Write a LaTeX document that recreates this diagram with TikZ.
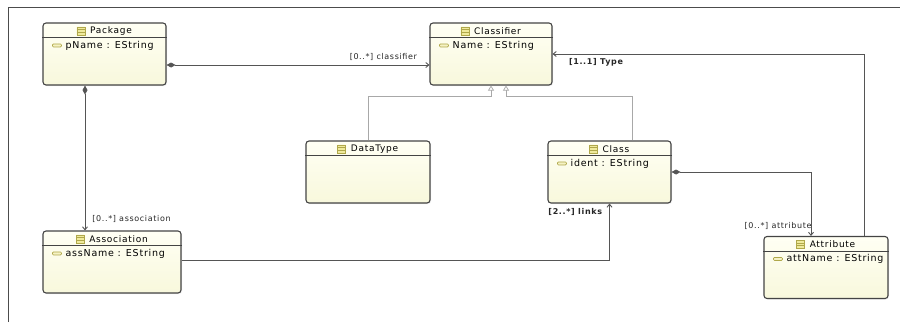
\documentclass[tikz,border=0pt]{standalone}
\usepackage{fontspec}
\setmainfont{DejaVu Sans}[LetterSpace=8]
\usetikzlibrary{positioning, arrows.meta, shadows}

\definecolor{boxline}{HTML}{444444}
\definecolor{boxtop}{HTML}{FFFFF4}
\definecolor{boxbot}{HTML}{F8F8DC}
\definecolor{iconline}{HTML}{B0A84A}
\definecolor{iconfill}{HTML}{EFEA9C}
\definecolor{edgeline}{HTML}{555555}
\definecolor{genline}{HTML}{A8A8A8}

\tikzset{
  clsbox/.style={draw=boxline, line width=1.1pt, rounded corners=3pt,
    top color=boxtop, bottom color=boxbot,
    drop shadow={opacity=0.15, shadow xshift=1pt, shadow yshift=-1pt}},
  sepline/.style={draw=boxline, line width=0.7pt},
  boxtitle/.style={inner sep=0pt, font=\fontsize{9}{10}\selectfont},
  attrtext/.style={inner sep=0pt, font=\fontsize{9.5}{11}\selectfont},
  iconcls/.style={draw=iconline, fill=iconfill, line width=0.6pt},
  iconattr/.style={draw=iconline, fill=iconfill!60, line width=0.6pt},
  assoc/.style={draw=edgeline, line width=0.9pt},
  comp/.style={assoc, {Diamond[length=9pt, width=5pt]}-{Straight Barb[length=3pt, width=5pt]}},
  ref/.style={assoc, -{Straight Barb[length=3pt, width=5pt]}},
  gen/.style={draw=genline, line width=0.7pt, -{Triangle[open, length=5pt, width=6pt, fill=white]}},
  lbl/.style={inner sep=0pt, text=black!85, font=\fontsize{8}{9}\selectfont},
  lblb/.style={lbl, font=\fontsize{8}{9}\selectfont\bfseries},
  frameline/.style={draw=black!70, line width=1pt}
}

% box with header line and title icon
\newcommand{\umlclass}[4]{%
  \node[clsbox, minimum width=#3pt, minimum height=62pt] (#1) at (#2) {};
  \draw[sepline] ([yshift=-15pt]#1.north west) -- ([yshift=-15pt]#1.north east);
  \node[boxtitle] (#1-t) at ([yshift=-8.5pt]#1.north) {\hspace*{13pt}#4};
  \draw[iconcls] ([yshift=-4pt]#1-t.west) rectangle ++(8pt,8pt)
    ([yshift=1.3pt]#1-t.west) -- ++(8pt,0pt)
    ([yshift=-1.3pt]#1-t.west) -- ++(8pt,0pt);
}
% one attribute row
\newcommand{\umlattr}[2]{%
  \node[attrtext, anchor=west] (#1-a) at ([xshift=23pt, yshift=-23pt]#1.north west) {#2};
  \draw[iconattr, rounded corners=1pt] ([xshift=-13pt, yshift=-1.5pt]#1-a.west) rectangle ++(9pt,3pt);
}

\begin{document}
\begin{tikzpicture}[x=1pt, y=-1pt]
  \useasboundingbox (0,0) rectangle (900,322);
  \draw[frameline] (8,322) -- (8,7) -- (900,7);

  % classes
  \umlclass{pkg}{104.5,54}{123}{Package}
  \umlattr{pkg}{pName : EString}
  \umlclass{cls}{491,54}{122}{Classifier}
  \umlattr{cls}{Name : EString}
  \umlclass{dt}{368,172}{124}{DataType}
  \umlclass{cla}{609.5,172}{123}{Class}
  \umlattr{cla}{ident : EString}
  \umlclass{asc}{112,262}{138}{Association}
  \umlattr{asc}{assName : EString}
  \umlclass{att}{826,267.5}{124}{Attribute}
  \umlattr{att}{attName : EString}

  % inheritance
  \draw[gen] (dt.north) -- ++(0,-44) -| (cls.south);
  \draw[gen] ([xshift=22.5pt]cla.north) -- ++(0,-44) -| ([xshift=15pt]cls.south);

  % references
  \draw[comp] ([yshift=-11pt]pkg.east) -- ([yshift=-11pt]cls.west)
    node[lbl, pos=1, anchor=south east, xshift=-12pt, yshift=4pt] {[0..*] classifier};
  \draw[comp] ([xshift=-19.5pt]pkg.south) -- ([xshift=-19.5pt]pkg.south |- asc.north)
    node[lbl, pos=1, anchor=south west, xshift=7pt, yshift=7pt] {[0..*] association};
  \draw[comp] (cla.east) -| ([xshift=-15pt]att.north)
    node[lbl, pos=1, anchor=south east, xshift=1pt, yshift=6pt] {[0..*] attribute};
  \draw[ref] ([yshift=2pt]asc.east) -| (cla.south)
    node[lblb, pos=1, anchor=north east, xshift=-7pt, yshift=-4pt] {[2..*] links};
  \draw[ref] ([xshift=38pt]att.north) |- (cls.east)
    node[lblb, pos=1, anchor=north west, xshift=16pt, yshift=-4pt] {[1..1] Type};
\end{tikzpicture}
\end{document}
